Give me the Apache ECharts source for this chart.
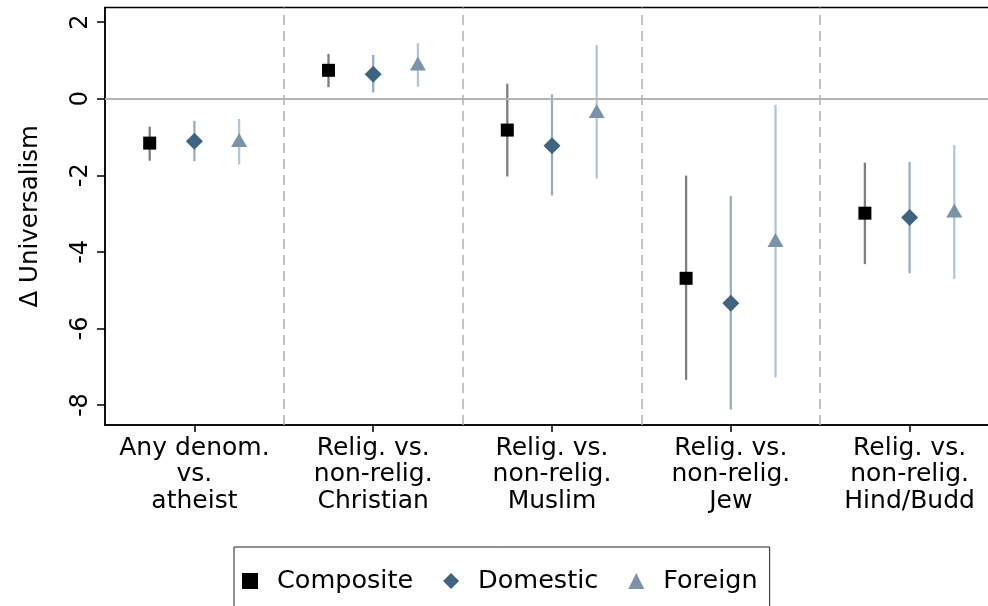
<!DOCTYPE html>
<html>
<head>
<meta charset="utf-8">
<script src="https://cdn.jsdelivr.net/npm/echarts@6/dist/echarts.min.js"></script>
<style>html,body{margin:0;padding:0;background:#fff;overflow:hidden;width:988px;height:606px}#c{width:999px;height:606px}</style>
</head>
<body>
<div id="c"></div>
<script>
const categories = ['Any denom.\nvs.\natheist', 'Relig. vs.\nnon-relig.\nChristian', 'Relig. vs.\nnon-relig.\nMuslim', 'Relig. vs.\nnon-relig.\nJew', 'Relig. vs.\nnon-relig.\nHind/Budd'];
const yTicks = [-8, -6, -4, -2, 0, 2];
const compositeEst = [-1.16, 0.74, -0.82, -4.69, -2.99];
const compositeLo  = [-1.62, 0.30, -2.03, -7.34, -4.32];
const compositeHi  = [-0.73, 1.17, 0.39, -2.01, -1.67];
const domesticEst  = [-1.11, 0.64, -1.23, -5.34, -3.10];
const domesticLo   = [-1.63, 0.16, -2.53, -8.12, -4.56];
const domesticHi   = [-0.58, 1.14, 0.11, -2.54, -1.65];
const foreignEst   = [-1.08, 0.92, -0.32, -3.69, -2.92];
const foreignLo    = [-1.72, 0.31, -2.09, -7.28, -4.71];
const foreignHi    = [-0.53, 1.45, 1.40, -0.16, -1.21];

const FONT = 'DejaVu Sans';
const groups = [
  {name: 'Composite', est: compositeEst, lo: compositeLo, hi: compositeHi, off: -0.25, color: '#000000', ci: '#7e7e7e', symbol: 'rect', size: [13, 13]},
  {name: 'Domestic', est: domesticEst, lo: domesticLo, hi: domesticHi, off: 0, color: '#3e6481', ci: '#98aebf', symbol: 'diamond', size: [17, 17]},
  {name: 'Foreign', est: foreignEst, lo: foreignLo, hi: foreignHi, off: 0.25, color: '#7a93ab', ci: '#b6c5d2', symbol: 'triangle', size: [16, 14]}
];

const series = [];
groups.forEach(g => {
  series.push({
    type: 'custom', xAxisIndex: 1, yAxisIndex: 0, silent: true, z: 2,
    data: g.est.map((v, i) => [i + 1 + g.off, g.lo[i], g.hi[i]]),
    renderItem: function (params, api) {
      const a = api.coord([api.value(0), api.value(1)]);
      const b = api.coord([api.value(0), api.value(2)]);
      return {type: 'line', shape: {x1: a[0], y1: a[1], x2: b[0], y2: b[1]}, style: {stroke: g.ci, lineWidth: 2.3}};
    }
  });
});
groups.forEach(g => {
  series.push({
    name: g.name, type: 'scatter', xAxisIndex: 1, yAxisIndex: 0, z: 3,
    symbol: g.symbol, symbolSize: g.size,
    itemStyle: {color: g.color, opacity: 1},
    data: g.est.map((v, i) => [i + 1 + g.off, v])
  });
});
series.push({
  type: 'line', xAxisIndex: 1, yAxisIndex: 0, data: [], silent: true,
  markLine: {
    silent: true, symbol: 'none', label: {show: false},
    data: [
      {yAxis: 0, lineStyle: {color: '#b4b4b4', width: 2, type: 'solid'}},
      {xAxis: 1.5}, {xAxis: 2.5}, {xAxis: 3.5}, {xAxis: 4.5}
    ],
    lineStyle: {color: '#b0b0b0', width: 1.5, type: [10, 6]}
  }
});

const chart = echarts.init(document.getElementById('c'), null, {renderer: 'canvas'});
chart.setOption({
  animation: false,
  backgroundColor: '#fff',
  grid: {left: 105, right: 0, top: 7.5, bottom: 181, show: true, borderColor: '#000', borderWidth: 1.5, backgroundColor: 'transparent'},
  legend: {
    left: 234, top: 547, orient: 'horizontal',
    padding: [21, 12, 21, 8], itemGap: 30,
    borderColor: '#222', borderWidth: 1, borderRadius: 0,
    itemWidth: 16, itemHeight: 16,
    textStyle: {fontFamily: FONT, fontSize: 25.5, color: '#000', padding: [0, 0, 0, 14]},
    data: groups.map(g => ({name: g.name, icon: g.symbol}))
  },
  xAxis: [
    {
      type: 'category', data: categories, boundaryGap: true,
      axisLine: {show: true, onZero: false, lineStyle: {color: '#000', width: 1.5}},
      axisTick: {show: true, alignWithLabel: true, length: 7, lineStyle: {color: '#000', width: 1.5}},
      axisLabel: {fontFamily: FONT, fontSize: 25, color: '#000', margin: 10, lineHeight: 26.5, interval: 0},
      splitLine: {show: false}
    },
    {type: 'value', min: 0.5, max: 5.5, show: false, splitLine: {show: false}}
  ],
  yAxis: {
    type: 'value', min: -8.52, max: 2.38,
    name: 'Δ Universalism', nameLocation: 'middle', nameGap: 62, nameRotate: 90,
    nameTextStyle: {fontFamily: FONT, fontSize: 24.5, color: '#000'},
    axisLine: {show: true, onZero: false, lineStyle: {color: '#000', width: 1.5}},
    axisTick: {show: true, length: 8, lineStyle: {color: '#000', width: 1.5}, customValues: yTicks},
    axisLabel: {fontFamily: FONT, fontSize: 24, color: '#000', rotate: 90, margin: 12, customValues: yTicks},
    splitLine: {show: false}
  },
  series: series
});
</script>
</body>
</html>
